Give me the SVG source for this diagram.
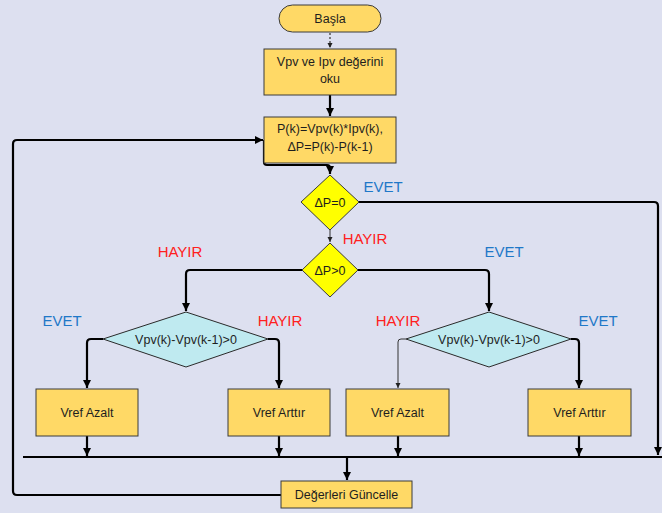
<svg xmlns="http://www.w3.org/2000/svg" width="662" height="513" viewBox="0 0 662 513">
<defs>
<marker id="ah" markerUnits="userSpaceOnUse" markerWidth="9" markerHeight="9" refX="8" refY="4.5" orient="auto"><path d="M0,0.5 L8,4.5 L0,8.5 z" fill="#000"/></marker>
<marker id="ahs" markerUnits="userSpaceOnUse" markerWidth="6" markerHeight="6" refX="5" refY="3" orient="auto"><path d="M0,0.5 L5,3 L0,5.5 z" fill="#222"/></marker>
<style>
.box{fill:#ffd966;stroke:#3a3a3a;stroke-width:1}
.dy{fill:#ffff00;stroke:#3a3a3a;stroke-width:1}
.dc{fill:#bfeaf0;stroke:#2a2a2a;stroke-width:1}
.t{font-family:"Liberation Sans",Arial,sans-serif;font-size:12.5px;fill:#1e1e1e;text-anchor:middle;dominant-baseline:central}
.lb{font-family:"Liberation Sans",Arial,sans-serif;font-size:15px;text-anchor:middle;dominant-baseline:central}
.ev{fill:#1f78c8}
.hy{fill:#ff2020}
.c{fill:none;stroke:#000;stroke-width:2.2;marker-end:url(#ah)}
.cn{fill:none;stroke:#000;stroke-width:2.2}
.cs{fill:none;stroke:#333;stroke-width:1;marker-end:url(#ahs)}
</style>
</defs>
<rect width="662" height="513" fill="#dde0f0"/>
<g id="connectors">
<path d="M330,33 V48" fill="none" stroke="#555" stroke-width="1.5" stroke-dasharray="2,2" marker-end="url(#ahs)"/>
<path class="c" d="M330,95 V116"/>
<path class="c" d="M281,495 H17 Q13,495 13,491 V144 Q13,140 17,140 H263"/>
<path class="c" d="M264,140 V162 Q264,165 267,165 H327 Q330,165 330,168 V174"/>
<path class="c" d="M359,202 H654 Q658,202 658,206 V455"/>
<path class="cs" d="M330,230 V242"/>
<path class="c" d="M302,270 H190 Q186,270 186,274 V311"/>
<path class="c" d="M358,270 H485 Q489,270 489,274 V311"/>
<path class="c" d="M103,339 H91 Q87,339 87,343 V388"/>
<path class="c" d="M268,339 H275 Q279,339 279,343 V388"/>
<path class="cs" d="M406,339 H401 Q398,339 398,342 V388"/>
<path class="c" d="M571,339 H575 Q579,339 579,343 V388"/>
<path class="c" d="M87,436 V456"/>
<path class="c" d="M279,436 V456"/>
<path class="c" d="M398,436 V456"/>
<path class="c" d="M579,436 V456"/>
<path class="cn" d="M23,457 H662"/>
<path class="c" d="M347,457 V480"/>
</g>
<g id="basla"><rect class="box" x="279" y="5" width="102" height="27" rx="13.5"/><text class="t" x="330" y="18.5">Başla</text></g>
<g id="oku"><rect class="box" x="264" y="49" width="132" height="46"/><text class="t" x="330" y="61.5">Vpv ve Ipv değerini</text><text class="t" x="330" y="78.5">oku</text></g>
<g id="hesap"><rect class="box" x="264" y="117" width="132" height="46"/><text class="t" x="330" y="129">P(k)=Vpv(k)*Ipv(k),</text><text class="t" x="330" y="146.5">ΔP=P(k)-P(k-1)</text></g>
<g id="dp0"><polygon class="dy" points="330,175 359,202 330,230 301,202"/><text class="t" x="330" y="203">ΔP=0</text></g>
<g id="dpg0"><polygon class="dy" points="330,243 358,270 330,297 302,270"/><text class="t" x="330" y="271">ΔP&gt;0</text></g>
<g id="vl"><polygon class="dc" points="186,312 268,339 186,367 103,339"/><text class="t" x="186" y="340" font-size="12">Vpv(k)-Vpv(k-1)&gt;0</text></g>
<g id="vr"><polygon class="dc" points="489,312 571,339 489,367 406,339"/><text class="t" x="489" y="340" font-size="12">Vpv(k)-Vpv(k-1)&gt;0</text></g>
<g id="b1"><rect class="box" x="36" y="389" width="102" height="47"/><text class="t" x="87" y="412.5">Vref Azalt</text></g>
<g id="b2"><rect class="box" x="228" y="389" width="102" height="47"/><text class="t" x="279" y="412.5">Vref Arttır</text></g>
<g id="b3"><rect class="box" x="346" y="389" width="103" height="47"/><text class="t" x="397.5" y="412.5">Vref Azalt</text></g>
<g id="b4"><rect class="box" x="528" y="389" width="103" height="47"/><text class="t" x="579.5" y="412.5">Vref Arttır</text></g>
<g id="guncelle"><rect class="box" x="281" y="481" width="131" height="27"/><text class="t" x="346.5" y="494.5">Değerleri Güncelle</text></g>
<g id="labels">
<text class="lb ev" x="383" y="186">EVET</text>
<text class="lb hy" x="365" y="238">HAYIR</text>
<text class="lb hy" x="180" y="251">HAYIR</text>
<text class="lb ev" x="504" y="251">EVET</text>
<text class="lb ev" x="62" y="320">EVET</text>
<text class="lb hy" x="280" y="320">HAYIR</text>
<text class="lb hy" x="398" y="320">HAYIR</text>
<text class="lb ev" x="598" y="320">EVET</text>
</g>
</svg>
